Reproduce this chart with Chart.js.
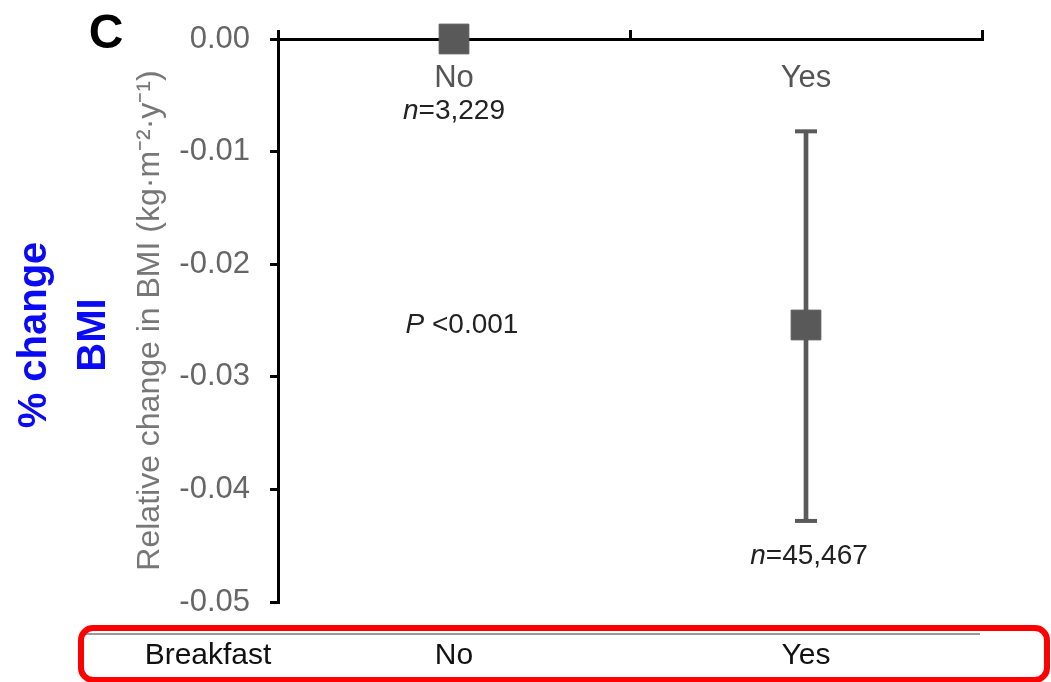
<!DOCTYPE html>
<html><head><meta charset="utf-8">
<script src="https://cdn.jsdelivr.net/npm/chart.js@4.4.1/dist/chart.umd.min.js"></script>
<style>html,body{margin:0;padding:0;background:#fff;}#wrap{position:relative;width:1051px;height:682px;}</style>
</head><body><div id="wrap"><canvas id="c" width="1051" height="682"></canvas></div>
<script>
const categories = ['No', 'Yes'];
const meanChange = [0.0, -0.0254];
const ciLower = [null, -0.0428];
const ciUpper = [null, -0.0082];
const sampleSizes = ['3,229', '45,467'];
const pValueText = '<0.001';
const yMin = -0.05, yMax = 0.0, yStep = 0.01;
const rowHeader = 'Breakfast';
const panelLetter = 'C';
const sideTitle = ['% change', 'BMI'];

const FONT = "'Liberation Sans', Arial, Helvetica, sans-serif";

function drawMixed(ctx, parts, cx, cy, size, color) {
  let total = 0;
  const widths = parts.map(p => {
    ctx.font = (p.italic ? 'italic ' : '') + size + 'px ' + FONT;
    const w = ctx.measureText(p.t).width; total += w; return w;
  });
  let x = cx - total / 2;
  ctx.fillStyle = color; ctx.textBaseline = 'middle'; ctx.textAlign = 'left';
  parts.forEach((p, i) => {
    ctx.font = (p.italic ? 'italic ' : '') + size + 'px ' + FONT;
    ctx.fillText(p.t, x, cy); x += widths[i];
  });
}

const annotations = {
  id: 'annotations',
  afterDraw(chart) {
    const {ctx} = chart;
    const x = chart.scales.x, y = chart.scales.y, x2 = chart.scales.x2;
    ctx.save();
    // sample sizes
    drawMixed(ctx, [{t: 'n', italic: true}, {t: '=' + sampleSizes[0]}], x.getPixelForValue(0), y.getPixelForValue(meanChange[0]) + 72, 28, '#222');
    drawMixed(ctx, [{t: 'n', italic: true}, {t: '=' + sampleSizes[1]}], x.getPixelForValue(1) + 3, y.getPixelForValue(ciLower[1]) + 35, 28, '#222');
    // p value
    drawMixed(ctx, [{t: 'P', italic: true}, {t: ' ' + pValueText}], x.getPixelForValue(0) + 8, y.getPixelForValue(meanChange[1]), 28, '#222');
    // panel letter
    ctx.font = 'bold 48px ' + FONT; ctx.fillStyle = '#000'; ctx.textAlign = 'center'; ctx.textBaseline = 'alphabetic';
    ctx.fillText(panelLetter, 106, 48);
    // blue side title
    ctx.fillStyle = '#0a0af5'; ctx.font = 'bold 40px ' + FONT;
    ctx.save(); ctx.translate(46, 335); ctx.rotate(-Math.PI / 2); ctx.fillText(sideTitle[0], 0, 0); ctx.restore();
    ctx.save(); ctx.translate(105, 335); ctx.rotate(-Math.PI / 2); ctx.fillText(sideTitle[1], 0, 0); ctx.restore();
    // table rule and red frame
    ctx.strokeStyle = '#9a9a9a'; ctx.lineWidth = 2;
    ctx.beginPath(); ctx.moveTo(80, 634); ctx.lineTo(980, 634); ctx.stroke();
    ctx.strokeStyle = '#ff0000'; ctx.lineWidth = 6;
    ctx.beginPath(); ctx.roundRect(81, 628, 966, 52, 12); ctx.stroke();
    // row header
    ctx.font = '30px ' + FONT; ctx.fillStyle = '#111'; ctx.textAlign = 'center'; ctx.textBaseline = 'middle';
    ctx.fillText(rowHeader, 208, x2.top + 36 + 18);
    ctx.restore();
  }
};

new Chart(document.getElementById('c'), {
  type: 'bar',
  data: {
    labels: categories,
    datasets: [
      {type: 'line', label: 'mean', data: meanChange, showLine: false, pointStyle: 'rect', pointRadius: 21, pointHoverRadius: 21,
       pointBackgroundColor: '#595959', pointBorderColor: '#595959', pointBorderWidth: 1, clip: false, order: 0, xAxisID: 'x', yAxisID: 'y'},
      {type: 'line', label: 'upper', data: ciUpper, showLine: false, pointStyle: 'line', pointRadius: 11, pointHoverRadius: 11,
       pointBorderColor: '#5a5a5a', pointBorderWidth: 4, clip: false, order: 1, xAxisID: 'x', yAxisID: 'y'},
      {type: 'line', label: 'lower', data: ciLower, showLine: false, pointStyle: 'line', pointRadius: 11, pointHoverRadius: 11,
       pointBorderColor: '#5a5a5a', pointBorderWidth: 4, clip: false, order: 1, xAxisID: 'x', yAxisID: 'y'},
      {type: 'bar', label: 'ci', data: categories.map((c, i) => ciLower[i] === null ? null : [ciLower[i], ciUpper[i]]),
       backgroundColor: '#5a5a5a', borderWidth: 0, barThickness: 4, order: 2, xAxisID: 'x', yAxisID: 'y'}
    ]
  },
  options: {
    responsive: false, animation: false, devicePixelRatio: 1,
    layout: {padding: {top: 39, right: 69, left: 110, bottom: 0}},
    plugins: {legend: {display: false}, tooltip: {enabled: false}},
    scales: {
      y: {
        type: 'linear', position: 'left', min: yMin, max: yMax,
        afterFit(s) { s.width = 168; },
        ticks: {stepSize: yStep, color: '#666', padding: 20, font: {family: FONT, size: 31},
                callback: v => (Math.abs(v) < 1e-9 ? 0 : v).toFixed(2)},
        grid: {drawOnChartArea: false, color: '#000', tickLength: 8, lineWidth: 3},
        border: {display: true, color: '#000', width: 3},
        title: {display: true, text: 'Relative change in BMI (kg·m⁻²·y⁻¹)', color: '#777',
                font: {family: FONT, size: 32}, padding: {top: 21, bottom: 0}}
      },
      x: {
        type: 'category', position: {y: 0}, offset: true,
        ticks: {color: '#555', padding: 32, font: {family: FONT, size: 31}},
        grid: {offset: true, drawOnChartArea: false, color: '#000', tickLength: -11, lineWidth: 3},
        border: {display: true, color: '#000', width: 3}
      },
      x2: {
        type: 'category', position: 'bottom', offset: true,
        afterFit(s) { s.height = 80; },
        ticks: {color: '#111', padding: 36, font: {family: FONT, size: 30}},
        grid: {display: false, drawTicks: false, offset: true},
        border: {display: false}
      }
    }
  },
  plugins: [annotations]
});
</script></body></html>
